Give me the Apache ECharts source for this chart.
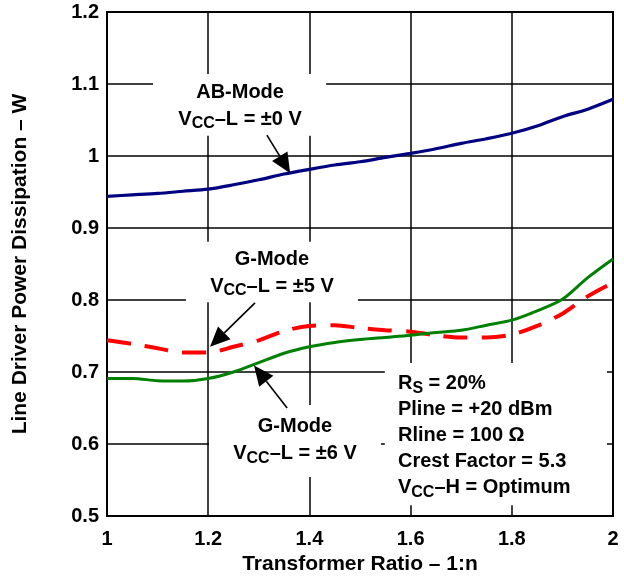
<!DOCTYPE html>
<html>
<head>
<meta charset="utf-8">
<script src="https://cdn.jsdelivr.net/npm/echarts@6/dist/echarts.min.js"></script>
<style>
  html, body { margin: 0; padding: 0; background: #fff; }
  #chart { width: 624px; height: 577px; }
</style>
</head>
<body>
<div id="chart"></div>
<script>
// Transformer ratio 1:n (x axis)
const ratio = [1.00, 1.05, 1.10, 1.15, 1.20, 1.25, 1.30, 1.35, 1.40, 1.45, 1.50,
               1.55, 1.60, 1.65, 1.70, 1.75, 1.80, 1.85, 1.90, 1.95, 2.00];

// Line driver power dissipation (W)
const abMode0V = [0.944, 0.946, 0.948, 0.951, 0.954, 0.960, 0.967, 0.975, 0.9815, 0.9875, 0.992,
                  0.998, 1.0037, 1.010, 1.0176, 1.024, 1.0315, 1.0417, 1.0546, 1.065, 1.0787];
const gMode5V  = [0.744, 0.739, 0.733, 0.727, 0.727, 0.735, 0.744, 0.757, 0.764, 0.765, 0.761,
                  0.758, 0.756, 0.751, 0.748, 0.748, 0.752, 0.764, 0.781, 0.805, 0.824];
const gMode6V  = [0.691, 0.691, 0.688, 0.6875, 0.691, 0.700, 0.713, 0.726, 0.735, 0.741, 0.745,
                  0.748, 0.751, 0.755, 0.758, 0.765, 0.772, 0.785, 0.801, 0.831, 0.857];

const FONT = '"Liberation Sans", Arial, Helvetica, sans-serif';

const pairs = (xs, ys) => xs.map((x, i) => [x, ys[i]]);

const chart = echarts.init(document.getElementById('chart'), null, { renderer: 'canvas' });

const option = {
  animation: false,
  backgroundColor: '#fff',
  grid: {
    left: 107, right: 11, top: 12, bottom: 61,
    outerBoundsMode: 'none', containLabel: false,
    show: true, borderColor: '#000', borderWidth: 2, backgroundColor: 'transparent'
  },
  xAxis: {
    type: 'value', min: 1, max: 2, interval: 0.2,
    name: 'Transformer Ratio – 1:n', nameLocation: 'middle', nameGap: 37,
    nameTextStyle: { fontFamily: FONT, fontWeight: 'bold', fontSize: 21, color: '#000' },
    axisLine: { show: true, lineStyle: { color: '#000', width: 2 } },
    axisTick: { show: false },
    axisLabel: { fontFamily: FONT, fontWeight: 'bold', fontSize: 20, color: '#000', margin: 13 },
    splitLine: { show: true, lineStyle: { color: '#000', width: 1.5 } }
  },
  yAxis: {
    type: 'value', min: 0.5, max: 1.2, interval: 0.1,
    name: 'Line Driver Power Dissipation – W', nameLocation: 'middle', nameGap: 76,
    nameTextStyle: { fontFamily: FONT, fontWeight: 'bold', fontSize: 21, color: '#000' },
    axisLine: { show: true, lineStyle: { color: '#000', width: 2 } },
    axisTick: { show: false },
    axisLabel: { fontFamily: FONT, fontWeight: 'bold', fontSize: 20, color: '#000', margin: 8 },
    splitLine: { show: true, lineStyle: { color: '#000', width: 1.5 } }
  },
  series: [
    {
      name: 'AB-Mode ±0 V', type: 'line', data: pairs(ratio, abMode0V),
      symbol: 'none', smooth: 0.3, z: 3,
      lineStyle: { color: '#000080', width: 3.2 }
    },
    {
      name: 'G-Mode ±5 V', type: 'line', data: pairs(ratio, gMode5V),
      symbol: 'none', smooth: 0.3, z: 3,
      lineStyle: { color: '#ff0000', width: 4, type: [24, 14] }
    },
    {
      name: 'G-Mode ±6 V', type: 'line', data: pairs(ratio, gMode6V),
      symbol: 'none', smooth: 0.3, z: 3,
      lineStyle: { color: '#008000', width: 3 }
    }
  ]
};

chart.setOption(option);

// ---- annotations (placed in data coordinates) ----
// white panels that sit over the grid lines behind each label
const panels = [
  [[1.091, 1.114], [1.433, 1.028]],
  [[1.156, 0.881], [1.496, 0.797]],
  [[1.2016, 0.654], [1.5415, 0.554]],
  [[1.549, 0.7125], [1.988, 0.515]]
];
// arrows: [start, tip]
const arrows = [
  [[1.316, 1.029], [1.362, 0.976]],
  [[1.2925, 0.796], [1.2036, 0.735]],
  [[1.356, 0.650], [1.2905, 0.709]]
];

const toPx = p => chart.convertToPixel({ gridIndex: 0 }, p);

const makeRich = lh => ({
  a: { fontFamily: FONT, fontWeight: 'bold', fontSize: 20, color: '#000', lineHeight: lh },
  s: { fontFamily: FONT, fontWeight: 'bold', fontSize: 16, color: '#000', lineHeight: lh, padding: [9, 0, 0, 0] }
});

const labels = [
  { at: [1.263, 1.070], align: 'center', lh: 27, text: '{a|AB-Mode}\n{a|V}{s|CC}{a|–L = ±0 V}' },
  { at: [1.326, 0.8376], align: 'center', lh: 27, text: '{a|G-Mode}\n{a|V}{s|CC}{a|–L = ±5 V}' },
  { at: [1.3715, 0.6049], align: 'center', lh: 27, text: '{a|G-Mode}\n{a|V}{s|CC}{a|–L = ±6 V}' },
  { at: [1.575, 0.6112], align: 'left', lh: 26,
    text: '{a|R}{s|S}{a| = 20%}\n{a|Pline = +20 dBm}\n{a|Rline = 100 Ω}\n{a|Crest Factor = 5.3}\n{a|V}{s|CC}{a|–H = Optimum}' }
];

const graphics = [];

panels.forEach(([p0, p1]) => {
  const a = toPx(p0), b = toPx(p1);
  graphics.push({
    type: 'rect', z: 1, silent: true,
    shape: { x: a[0], y: a[1], width: b[0] - a[0], height: b[1] - a[1] },
    style: { fill: '#fff' }
  });
});

arrows.forEach(([s, t]) => {
  const a = toPx(s), b = toPx(t);
  const dx = b[0] - a[0], dy = b[1] - a[1];
  const len = Math.hypot(dx, dy);
  const ux = dx / len, uy = dy / len;
  const headLen = 20, halfW = 9;
  const bx = b[0] - ux * headLen, by = b[1] - uy * headLen;
  graphics.push({
    type: 'line', z: 6, silent: true,
    shape: { x1: a[0], y1: a[1], x2: bx, y2: by },
    style: { stroke: '#000', lineWidth: 1.6 }
  });
  graphics.push({
    type: 'polygon', z: 6, silent: true,
    shape: { points: [[b[0], b[1]], [bx - uy * halfW, by + ux * halfW], [bx + uy * halfW, by - ux * halfW]] },
    style: { fill: '#000' }
  });
});

labels.forEach(l => {
  const p = toPx(l.at);
  graphics.push({
    type: 'text', z: 6, silent: true, x: p[0], y: p[1],
    style: { text: l.text, rich: makeRich(l.lh), align: l.align, verticalAlign: 'middle', fill: '#000' }
  });
});

chart.setOption({ graphic: { elements: graphics } });
</script>
</body>
</html>
